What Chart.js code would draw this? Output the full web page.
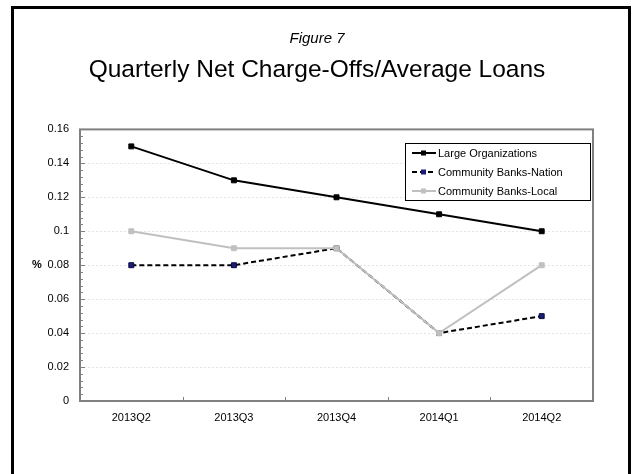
<!DOCTYPE html>
<html>
<head>
<meta charset="utf-8">
<script src="https://cdn.jsdelivr.net/npm/chart.js@4.4.1/dist/chart.umd.min.js"></script>
<style>
  html, body { margin: 0; padding: 0; background: #fff; }
  #wrap { position: relative; width: 634px; height: 474px; overflow: hidden; }
  #frame {
    position: absolute; left: 11px; top: 6px; width: 620px; height: 500px;
    border: 3px solid #000; box-sizing: border-box;
  }
  canvas { position: absolute; left: 0; top: 0; }
</style>
</head>
<body>
<div id="wrap">
  <div id="frame"></div>
  <canvas id="chart" width="634" height="474"></canvas>
</div>
<script>
const quarters = ['2013Q2', '2013Q3', '2013Q4', '2014Q1', '2014Q2'];
const largeOrgs = [0.15, 0.13, 0.12, 0.11, 0.10];
const communityNation = [0.08, 0.08, 0.09, 0.04, 0.05];
const communityLocal = [0.10, 0.09, 0.09, 0.04, 0.08];
const yTicks = [0, 0.02, 0.04, 0.06, 0.08, 0.1, 0.12, 0.14, 0.16];

const FONT = 'Liberation Sans, Arial, sans-serif';

// frame, inner tick marks, "%" label and boxed legend
const decorations = {
  id: 'decorations',
  afterDatasetsDraw(chart) {
    const { ctx, chartArea: a, scales } = chart;
    const y = scales.y, x = scales.x;
    ctx.save();

    // y ticks point inward, with minor ticks between the majors
    ctx.strokeStyle = '#808080';
    ctx.lineWidth = 1;
    const minor = 0.004;
    for (let v = 0; v <= 0.16 + 1e-9; v += minor) {
      const py = Math.round(y.getPixelForValue(v)) + 0.5;
      const major = yTicks.some(t => Math.abs(t - v) < 1e-6);
      ctx.beginPath();
      ctx.moveTo(a.left, py);
      ctx.lineTo(a.left + (major ? 5 : 3), py);
      ctx.stroke();
    }
    // x ticks at category boundaries
    for (let i = 1; i < quarters.length; i++) {
      const px = Math.round((x.getPixelForTick(i - 1) + x.getPixelForTick(i)) / 2) + 0.5;
      ctx.beginPath();
      ctx.moveTo(px, a.bottom);
      ctx.lineTo(px, a.bottom - 4);
      ctx.stroke();
    }

    // plot border
    ctx.strokeStyle = '#808080';
    ctx.lineWidth = 2;
    ctx.strokeRect(a.left, a.top, a.right - a.left, a.bottom - a.top);

    // "%" axis label, horizontal
    ctx.fillStyle = '#000';
    ctx.font = 'bold 11px ' + FONT;
    ctx.textAlign = 'center';
    ctx.textBaseline = 'middle';
    ctx.fillText('%', 37, (a.top + a.bottom) / 2);

    // legend box
    const lx = 405, ly = 143, lw = 185, lh = 57;
    ctx.fillStyle = '#fff';
    ctx.fillRect(lx, ly, lw, lh);
    ctx.strokeStyle = '#000';
    ctx.lineWidth = 1;
    ctx.strokeRect(lx + 0.5, ly + 0.5, lw, lh);
    ctx.font = '11px ' + FONT;
    ctx.textAlign = 'left';
    chart.data.datasets.forEach((ds, i) => {
      const cy = ly + 10 + i * 19;
      ctx.strokeStyle = ds.borderColor;
      ctx.lineWidth = 2;
      ctx.setLineDash(ds.borderDash || []);
      ctx.beginPath();
      ctx.moveTo(lx + 7, cy);
      ctx.lineTo(lx + 31, cy);
      ctx.stroke();
      ctx.setLineDash([]);
      ctx.fillStyle = ds.pointBackgroundColor;
      ctx.fillRect(lx + 16, cy - 2.5, 5, 5);
      ctx.fillStyle = '#000';
      ctx.fillText(ds.label, lx + 33, cy + 0.5);
    });
    ctx.restore();
  }
};

new Chart(document.getElementById('chart'), {
  type: 'line',
  data: {
    labels: quarters,
    datasets: [
      {
        label: 'Large Organizations',
        data: largeOrgs,
        borderColor: '#000',
        borderWidth: 2,
        pointStyle: 'rect',
        pointRadius: 3.5,
        pointBackgroundColor: '#000',
        pointBorderColor: '#000',
        pointBorderWidth: 1,
        order: 2
      },
      {
        label: 'Community Banks-Nation',
        data: communityNation,
        borderColor: '#000',
        borderWidth: 2,
        borderDash: [5, 3],
        pointStyle: 'rect',
        pointRadius: 3.5,
        pointBackgroundColor: '#1c1c78',
        pointBorderColor: '#0a0a40',
        pointBorderWidth: 1,
        order: 1
      },
      {
        label: 'Community Banks-Local',
        data: communityLocal,
        borderColor: '#c0c0c0',
        borderWidth: 2,
        pointStyle: 'rect',
        pointRadius: 3.5,
        pointBackgroundColor: '#c0c0c0',
        pointBorderColor: '#c0c0c0',
        pointBorderWidth: 1,
        order: 0
      }
    ]
  },
  options: {
    responsive: false,
    animation: false,
    events: [],
    // equal side padding keeps the titles centred on the page
    layout: { padding: { left: 41, right: 41, top: 0, bottom: 0 } },
    plugins: {
      legend: { display: false },
      tooltip: { enabled: false },
      title: {
        display: true,
        text: 'Figure 7',
        color: '#000',
        font: { family: FONT, size: 15, style: 'italic', weight: 'normal' },
        padding: { top: 30, bottom: 8 }
      },
      subtitle: {
        display: true,
        text: 'Quarterly Net Charge-Offs/Average Loans',
        color: '#000',
        font: { family: FONT, size: 24.5, weight: 'normal' },
        padding: { top: 0, bottom: 44 }
      }
    },
    scales: {
      x: {
        offset: true,
        grid: { display: false, drawTicks: false },
        border: { display: false },
        ticks: { color: '#000', font: { family: FONT, size: 11 }, padding: 10, maxRotation: 0 },
        afterFit(scale) { scale.height = 73; }
      },
      y: {
        min: 0,
        max: 0.16,
        grid: { color: '#e4e4e4', lineWidth: 1, drawTicks: false },
        border: { display: false, dash: [2, 2] },
        ticks: {
          stepSize: 0.02,
          color: '#000',
          padding: 11,
          font: { family: FONT, size: 11 },
          callback: v => String(+v.toFixed(2))
        },
        afterFit(scale) { scale.width = 39; }
      }
    }
  },
  plugins: [decorations]
});
</script>
</body>
</html>
